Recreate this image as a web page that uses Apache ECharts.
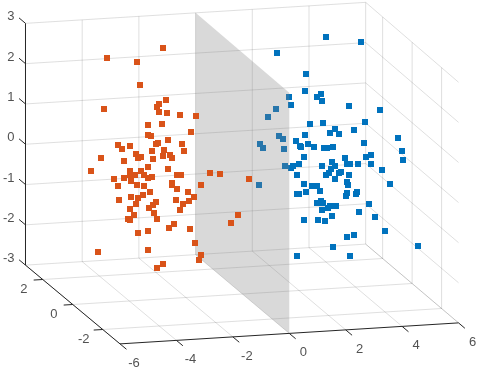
<!DOCTYPE html>
<html>
<head>
<meta charset="utf-8">
<style>html,body{margin:0;padding:0;background:#fff}#c{width:479px;height:371px}</style>
<script src="https://cdn.jsdelivr.net/npm/echarts@6/dist/echarts.min.js"></script>
</head>
<body>
<div id="c"></div>
<script>
// Axis ticks and limits of the 3-D box
const xTicks = [-6, -4, -2, 0, 2, 4, 6];
const yTicks = [-2, 0, 2];
const zTicks = [-3, -2, -1, 0, 1, 2, 3];
const yLimits = [-3.15, 3.15];
const planeX = [0];

// Point clouds, in the view plane of the 3-D camera
const orangePoints = [[163,48],[107,58],[137,62],[140,85],[166,100],[159,104],[157,107],[104,109],[159,112],[167,113],[180,115],[196,116],[148,125],[162,124],[191,132],[148,135],[151,136],[168,140],[158,143],[156,144],[182,144],[118,145],[130,146],[122,149],[152,151],[184,151],[164,150],[136,154],[170,155],[163,156],[141,157],[138,158],[172,158],[153,159],[101,158],[124,161],[148,167],[168,169],[91,171],[210,173],[220,174],[130,171],[141,171],[130,175],[135,175],[144,175],[177,175],[181,175],[124,178],[114,179],[148,178],[152,177],[131,181],[249,179],[172,183],[201,185],[137,185],[144,186],[118,186],[172,185],[177,189],[150,192],[188,192],[143,195],[131,197],[194,197],[138,198],[119,200],[176,200],[156,202],[189,201],[136,204],[183,204],[153,205],[149,208],[130,209],[180,210],[154,213],[134,215],[238,215],[128,219],[130,220],[157,219],[231,223],[174,224],[169,228],[190,229],[148,231],[138,233],[98,252],[148,250],[195,243],[201,255],[199,260],[163,264],[157,268]];
const bluePoints = [[326,37],[361,42],[277,53],[306,74],[305,91],[321,94],[317,97],[289,97],[322,101],[291,105],[349,106],[276,109],[380,110],[268,117],[310,124],[323,123],[365,122],[335,129],[354,130],[330,133],[339,134],[305,135],[279,136],[283,139],[398,138],[296,141],[260,144],[364,143],[308,144],[300,146],[301,147],[314,147],[263,148],[284,149],[324,148],[327,148],[333,147],[402,151],[304,157],[345,158],[366,157],[371,155],[403,160],[332,162],[299,164],[347,164],[350,164],[358,164],[371,164],[322,166],[335,166],[285,166],[293,166],[291,168],[331,169],[382,170],[341,172],[339,173],[329,173],[326,175],[297,175],[349,175],[335,179],[347,182],[304,184],[348,185],[390,184],[259,185],[312,186],[317,186],[306,192],[320,191],[357,192],[347,193],[356,194],[297,194],[299,194],[346,196],[321,201],[317,203],[323,203],[330,206],[336,206],[333,206],[369,204],[328,208],[322,210],[359,212],[332,216],[375,217],[304,220],[318,220],[325,221],[385,231],[354,235],[347,237],[418,246],[333,247],[297,256],[350,256]];

// Camera: maps a 3-D data position to the view plane
function project(x, y, z) {
  return [
    242.43 + (28.28 + 0.022 * y) * x - 14.87 * y,
    294 - 1.75 * x - 12.5 * y - (40.2 + 0.03 * y) * (z + 3)
  ];
}

const xMin = xTicks[0], xMax = xTicks[xTicks.length - 1];
const yMin = yLimits[0], yMax = yLimits[1];
const zMin = zTicks[0], zMax = zTicks[zTicks.length - 1];

const GRID = 'rgba(38,38,38,0.15)';
const INK = '#262626';
const series = [];

function segment(a, b, color, width, z) {
  series.push({
    type: 'line', data: [a, b], showSymbol: false, symbol: 'none', silent: true, z: z,
    lineStyle: { color: color, width: width }, animation: false
  });
}

// Back wall, side wall and floor grids
zTicks.forEach(z => {
  segment(project(xMin, yMax, z), project(xMax, yMax, z), GRID, 1, 1);
  segment(project(xMax, yMax, z), project(xMax, yMin, z), GRID, 1, 1);
});
xTicks.forEach(x => {
  segment(project(x, yMax, zMin), project(x, yMax, zMax), GRID, 1, 1);
  segment(project(x, yMax, zMin), project(x, yMin, zMin), GRID, 1, 1);
});
yTicks.forEach(y => {
  segment(project(xMin, y, zMin), project(xMax, y, zMin), GRID, 1, 1);
  segment(project(xMax, y, zMin), project(xMax, y, zMax), GRID, 1, 1);
});

// Blue cloud lies behind the plane
series.push({
  type: 'scatter', data: bluePoints, symbol: 'rect', symbolSize: 6, silent: true, z: 2,
  itemStyle: { color: '#0072BD', opacity: 1 }
});

// Separating plane
series.push({
  type: 'custom', coordinateSystem: 'cartesian2d', silent: true, z: 3,
  data: planeX.map(x => [x]),
  renderItem: function (params, api) {
    const x = api.value(0);
    const corners = [project(x, yMax, zMax), project(x, yMin, zMax), project(x, yMin, zMin), project(x, yMax, zMin)];
    return {
      type: 'polygon',
      shape: { points: corners.map(c => api.coord(c)) },
      style: { fill: 'rgba(128,128,128,0.3)', stroke: null }
    };
  }
});

// Orange cloud lies in front of the plane
series.push({
  type: 'scatter', data: orangePoints, symbol: 'rect', symbolSize: 6, silent: true, z: 4,
  itemStyle: { color: '#D95319', opacity: 1 }
});

// Axis rulers
segment(project(xMin, yMax, zMin), project(xMin, yMax, zMax), INK, 1, 5);
segment(project(xMin, yMin, zMin), project(xMax, yMin, zMin), INK, 1, 5);
segment(project(xMin, yMin, zMin), project(xMin, yMax, zMin), INK, 1, 5);
zTicks.forEach(z => segment(project(xMin, yMax, z), project(xMin, yMax + 0.43, z), INK, 1, 5));
xTicks.forEach(x => segment(project(x, yMin, zMin), project(x, yMin - 0.43, zMin), INK, 1, 5));
yTicks.forEach(y => segment(project(xMin, y, zMin), project(xMin - 0.32, y, zMin), INK, 1, 5));

// Tick labels
function labels(values, place, align) {
  series.push({
    type: 'scatter', symbolSize: 0, silent: true, z: 6,
    data: values.map(v => { const p = place(v); return [p[0], p[1], String(v)]; }),
    label: {
      show: true, position: 'inside', formatter: p => p.value[2],
      color: INK, fontFamily: '"Liberation Sans", Arial, sans-serif', fontSize: 13,
      align: align, verticalAlign: 'middle'
    },
    labelLayout: { hideOverlap: false }
  });
}
labels(xTicks, x => { const p = project(x, yMin, zMin); return [p[0] + 14, p[1] + 19.5]; }, 'center');
labels(yTicks, y => { const p = project(xMin, y, zMin); return [p[0] - 19, p[1] + 10]; }, 'center');
labels(zTicks, z => { const p = project(xMin, yMax, z); return [14.5, p[1] - 6.5]; }, 'right');

const chart = echarts.init(document.getElementById('c'), null, { renderer: 'canvas' });
chart.setOption({
  animation: false,
  backgroundColor: '#ffffff',
  grid: { left: 0, right: 0, top: 0, bottom: 0 },
  xAxis: { type: 'value', min: 0, max: 479, show: false },
  yAxis: { type: 'value', min: 0, max: 371, inverse: true, show: false },
  series: series
});
</script>
</body>
</html>
